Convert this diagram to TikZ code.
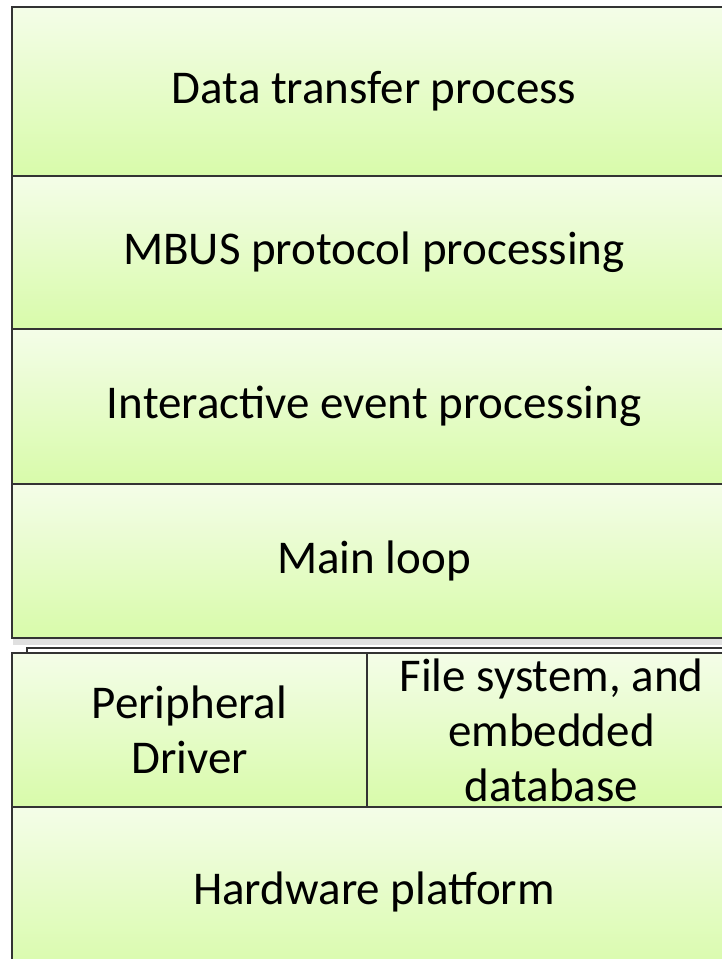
\documentclass[tikz,border=0pt]{standalone}
\usepackage{fontspec}
\setmainfont{Carlito}
\definecolor{layertop}{HTML}{F4FDE8}
\definecolor{layerbot}{HTML}{D8FBAA}
\definecolor{edge}{HTML}{333333}
\begin{document}
\begin{tikzpicture}[x=1pt,y=-1pt,
  layer/.style={draw=edge, line width=2pt, top color=layertop, bottom color=layerbot,
    anchor=north west, inner sep=0pt, align=center,
    font=\fontsize{47}{55}\selectfont}]
\useasboundingbox (0,0) rectangle (722,959);
\fill[white] (0,0) rectangle (722,959);
\begin{scope}
\clip (0,0) rectangle (722,959);
% application layers
\node[layer, minimum width=724pt, minimum height=169pt] (dtp)  at (11,6)   {Data transfer process};
\node[layer, minimum width=724pt, minimum height=153pt] (mbus) at (11,175) {MBUS protocol processing};
\node[layer, minimum width=724pt, minimum height=155pt] (iep)  at (11,328) {Interactive event processing};
\node[layer, minimum width=724pt, minimum height=154pt] (ml)   at (11,483) {Main loop};
% soft shadow under the main loop
\fill[black!12] (13,639) rectangle (740,645);
% lower stack with offset back plate
\draw[edge, line width=2pt, fill=white] (27,648) rectangle (740,660);
\node[layer, minimum width=355pt, minimum height=154pt] (drv) at (11,652)  {Peripheral\\Driver};
\node[layer, minimum width=369pt, minimum height=154pt] (fs)  at (366,652) {File system, and\\embedded\\database};
\node[layer, minimum width=724pt, minimum height=169pt] (hw)  at (11,806)  {Hardware platform};
\end{scope}
\end{tikzpicture}
\end{document}
